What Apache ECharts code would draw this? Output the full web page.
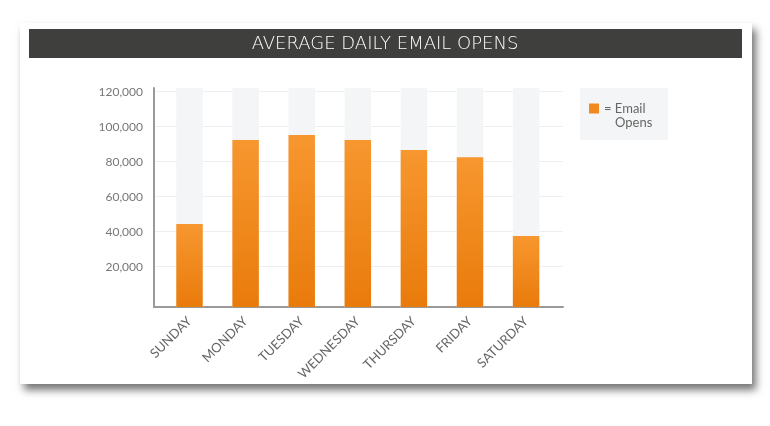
<!DOCTYPE html>
<html>
<head>
<meta charset="utf-8">
<script src="https://cdn.jsdelivr.net/npm/echarts@6/dist/echarts.min.js"></script>
<style>
	html, body { margin: 0; padding: 0; background: #fff; }
	#chart { width: 770px; height: 426px; }
</style>
</head>
<body>
<div id="chart"></div>
<script>
const days = ["SUNDAY", "MONDAY", "TUESDAY", "WEDNESDAY", "THURSDAY", "FRIDAY", "SATURDAY"];
const emailOpens = [44400, 92400, 95300, 92400, 86700, 82500, 37500];
const yTicks = [20000, 40000, 60000, 80000, 100000, 120000];
const dayPositions = days.map((d, i) => i);

const chart = echarts.init(document.getElementById("chart"));

const font = "Lato, 'Open Sans', sans-serif";
const barFill = new echarts.graphic.LinearGradient(0, 0, 0, 1, [
	{ offset: 0, color: "#f7972f" },
	{ offset: 1, color: "#e97b0b" }
]);

const option = {
	animation: false,
	graphic: [
		{
			type: "rect",
			z: -10,
			shape: { x: 20, y: 23, width: 732, height: 361 },
			style: {
				fill: "#fff",
				shadowBlur: 8,
				shadowColor: "rgba(0,0,0,0.55)",
				shadowOffsetX: 4,
				shadowOffsetY: 6
			}
		},
		{
			type: "rect",
			z: -9,
			shape: { x: 29, y: 29, width: 713, height: 29 },
			style: { fill: "#3f3f3e" }
		},
		{
			type: "rect",
			z: -9,
			shape: { x: 580, y: 88, width: 88, height: 52 },
			style: { fill: "#f4f5f6" }
		}
	],
	title: {
		text: "AVERAGE DAILY EMAIL OPENS",
		left: "center",
		top: 34,
		padding: 0,
		textStyle: {
			color: "#fff",
			fontFamily: "'DejaVu Sans', sans-serif",
			fontWeight: 200,
			fontSize: 18,
			lineHeight: 21
		}
	},
	legend: {
		left: 589,
		top: 102,
		padding: 0,
		itemWidth: 10,
		itemHeight: 10,
		itemGap: 5,
		data: [{ name: "Email Opens", icon: "rect" }],
		formatter: () => "{a|= Email}\n{b|Opens}",
		textStyle: {
			color: "#666",
			fontFamily: font,
			fontSize: 13,
			padding: [14, 0, 0, 0],
			rich: {
				a: { fontSize: 13, lineHeight: 14, color: "#666", fontFamily: font },
				b: { fontSize: 13, lineHeight: 14, color: "#666", fontFamily: font, padding: [0, 0, 0, 11] }
			}
		}
	},
	grid: {
		left: 154,
		right: 207,
		top: 88,
		bottom: 119
	},
	xAxis: {
		type: "value",
		min: -0.633,
		max: 6.658,
		splitLine: { show: false },
		axisTick: { show: false },
		axisLine: { onZero: false, lineStyle: { color: "#9a9a9a", width: 2 } },
		axisLabel: {
			customValues: dayPositions,
			formatter: v => days[Math.round(v)],
			rotate: 45,
			margin: 12,
			color: "#666",
			fontFamily: font,
			fontSize: 13
		}
	},
	yAxis: {
		type: "value",
		min: -3000,
		max: 122100,
		axisLine: { show: true, onZero: false, lineStyle: { color: "#9a9a9a", width: 2 } },
		axisTick: { show: false, customValues: yTicks },
		splitLine: { lineStyle: { color: "#efefef", width: 1 } },
		axisLabel: {
			customValues: yTicks,
			formatter: v => v.toLocaleString("en-US"),
			margin: 11,
			color: "#777",
			fontFamily: font,
			fontSize: 12
		}
	},
	series: [{
		name: "Email Opens",
		type: "custom",
		itemStyle: { color: "#f08a1e" },
		data: emailOpens.map((v, i) => [dayPositions[i], v]),
		renderItem: (params, api) => {
			const cs = params.coordSys;
			const top = api.coord([api.value(0), api.value(1)]);
			const w = api.size([0.472, 0])[0];
			const bottom = cs.y + cs.height;
			return {
				type: "group",
				children: [
					{
						type: "rect",
						shape: { x: top[0] - w / 2, y: cs.y, width: w, height: cs.height },
						style: { fill: "#f4f5f7" }
					},
					{
						type: "rect",
						shape: { x: top[0] - w / 2, y: top[1], width: w, height: bottom - top[1] },
						style: { fill: barFill }
					}
				]
			};
		}
	}]
};

chart.setOption(option);
window.onresize = chart.resize;
</script>
</body>
</html>
